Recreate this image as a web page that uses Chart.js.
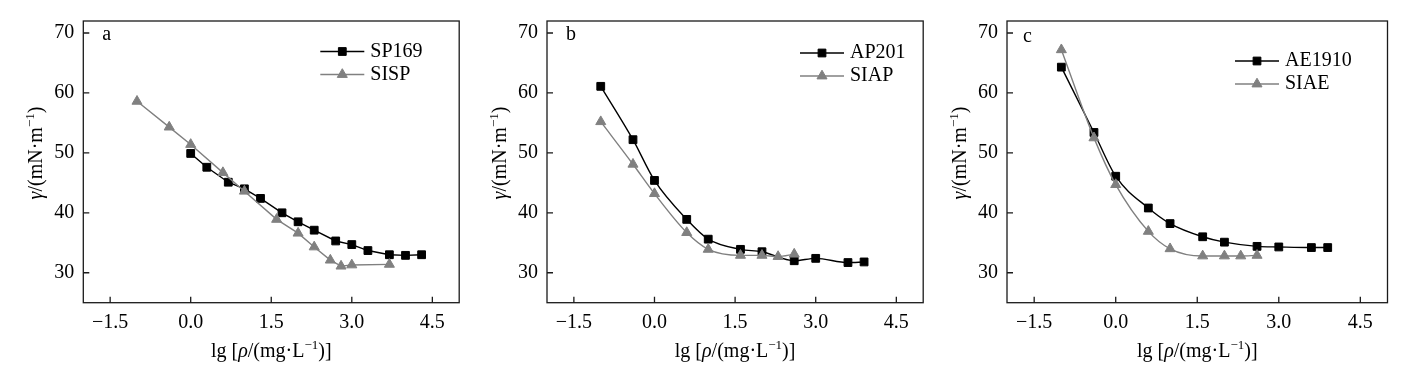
<!DOCTYPE html>
<html>
<head>
<meta charset="utf-8">
<script src="https://cdn.jsdelivr.net/npm/chart.js@4.4.1/dist/chart.umd.min.js"></script>
<style>
body { margin: 0; background: #fff; width: 1426px; height: 373px; position: relative; overflow: hidden; }
.panel { position: absolute; top: 0; height: 373px; }
</style>
</head>
<body>
<div class="panel" style="left:0;width:466px"><canvas id="chartA"></canvas></div>
<div class="panel" style="left:466px;width:464px"><canvas id="chartB"></canvas></div>
<div class="panel" style="left:930px;width:496px"><canvas id="chartC"></canvas></div>
<script>
// axis ticks
var xTicks = [-1.5, 0, 1.5, 3, 4.5];
var yTicks = [30, 40, 50, 60, 70];

// panel a
var sp169X = [0, 0.3, 0.7, 1.0, 1.3, 1.7, 2.0, 2.3, 2.7, 3.0, 3.3, 3.7, 4.0, 4.3];
var sp169Y = [49.9, 47.6, 45.1, 44.0, 42.4, 40.0, 38.5, 37.1, 35.3, 34.7, 33.7, 33.0, 32.9, 33.0];
var sispX = [-1.0, -0.4, 0, 0.6, 1.0, 1.6, 2.0, 2.3, 2.6, 2.8, 3.0, 3.7];
var sispY = [58.6, 54.3, 51.4, 46.7, 43.6, 38.9, 36.6, 34.3, 32.1, 31.1, 31.3, 31.4];

// panel b
var ap201X = [-1.0, -0.4, 0, 0.6, 1.0, 1.6, 2.0, 2.6, 3.0, 3.6, 3.9];
var ap201Y = [61.1, 52.2, 45.4, 38.9, 35.6, 33.9, 33.5, 32.0, 32.4, 31.7, 31.8];
var siapX = [-1.0, -0.4, 0, 0.6, 1.0, 1.6, 2.0, 2.3, 2.6];
var siapY = [55.2, 48.1, 43.2, 36.7, 33.9, 32.9, 32.9, 32.7, 33.1];

// panel c
var ae1910X = [-1.0, -0.4, 0, 0.6, 1.0, 1.6, 2.0, 2.6, 3.0, 3.6, 3.9];
var ae1910Y = [64.3, 53.4, 46.1, 40.8, 38.2, 36.0, 35.1, 34.4, 34.3, 34.2, 34.2];
var siaeX = [-1.0, -0.4, 0, 0.6, 1.0, 1.6, 2.0, 2.3, 2.6];
var siaeY = [67.2, 52.5, 44.7, 36.9, 34.0, 32.8, 32.8, 32.8, 32.9];

var FONT = '"Liberation Serif", "Times New Roman", serif';

function pts(xs, ys) {
    return xs.map(function (x, i) { return { x: x, y: ys[i] }; });
}

function fmtX(v) {
    if (v < 0) return '\u2212' + Math.abs(v).toFixed(1);
    return v.toFixed(1);
}

// draws a line of text made of parts (italic / superscript), centred on (0,0)
function drawRich(ctx, parts) {
    var total = 0;
    parts.forEach(function (p) {
        ctx.font = (p.italic ? 'italic ' : '') + (p.sup ? '13px ' : '20px ') + FONT;
        p.w = ctx.measureText(p.t).width;
        total += p.w;
    });
    var x = -total / 2;
    ctx.textAlign = 'left';
    ctx.textBaseline = 'middle';
    parts.forEach(function (p) {
        ctx.font = (p.italic ? 'italic ' : '') + (p.sup ? '13px ' : '20px ') + FONT;
        ctx.fillText(p.t, x, p.sup ? -6 : 0);
        x += p.w;
    });
}

var xTitle = [{ t: 'lg [' }, { t: '\u03c1', italic: true }, { t: '/(mg\u00b7L' }, { t: '\u22121', sup: true }, { t: ')]' }];
var yTitle = [{ t: '\u03b3', italic: true }, { t: '/(mN\u00b7m' }, { t: '\u22121', sup: true }, { t: ')' }];

var framePlugin = {
    id: 'frame',
    afterDraw: function (chart) {
        var ctx = chart.ctx, a = chart.chartArea;
        var xs = chart.scales.x, ys = chart.scales.y;
        var o = chart.options.plugins.frame;
        ctx.save();
        ctx.strokeStyle = '#1a1a1a';
        ctx.lineWidth = 1.3;
        ctx.strokeRect(a.left, a.top, a.right - a.left, a.bottom - a.top);
        ctx.beginPath();
        xTicks.forEach(function (v) {
            var px = xs.getPixelForValue(v);
            ctx.moveTo(px, a.bottom);
            ctx.lineTo(px, a.bottom - 6);
        });
        yTicks.forEach(function (v) {
            var py = ys.getPixelForValue(v);
            ctx.moveTo(a.left, py);
            ctx.lineTo(a.left + 6, py);
        });
        ctx.stroke();

        ctx.fillStyle = '#000';
        // axis titles
        ctx.save();
        ctx.translate((a.left + a.right) / 2, 351.7);
        drawRich(ctx, xTitle);
        ctx.restore();
        ctx.save();
        ctx.translate(a.left - 46.7, 153);
        ctx.rotate(-Math.PI / 2);
        drawRich(ctx, yTitle);
        ctx.restore();

        // panel letter
        ctx.font = '20px ' + FONT;
        ctx.textAlign = 'left';
        ctx.textBaseline = 'middle';
        ctx.fillText(o.letter, a.left + o.letterX, o.letterY);

        // legend
        chart.data.datasets.forEach(function (ds, i) {
            var y = o.legendY + i * 23;
            var x0 = a.left + o.legendX;
            ctx.strokeStyle = ds.borderColor;
            ctx.fillStyle = ds.pointBackgroundColor;
            ctx.lineWidth = ds.borderWidth;
            ctx.beginPath();
            ctx.moveTo(x0, y);
            ctx.lineTo(x0 + 44, y);
            ctx.stroke();
            ctx.lineWidth = 1;
            Chart.helpers.drawPoint(ctx, { pointStyle: ds.pointStyle, radius: ds.pointRadius, borderWidth: 1 }, x0 + 22, y);
            ctx.fillStyle = '#000';
            ctx.font = '20px ' + FONT;
            ctx.fillText(ds.label, x0 + 50, y);
        });
        ctx.restore();
    }
};

function makeChart(id, labels, blackPts, greyPts, smooth, yAxisWidth, padRight, extra) {
    var curve = smooth ? 'monotone' : 'default';
    return new Chart(document.getElementById(id), {
        type: 'line',
        data: {
            datasets: [{
                label: labels[0],
                data: blackPts,
                borderColor: '#000',
                backgroundColor: '#000',
                pointBackgroundColor: '#000',
                pointBorderColor: '#000',
                borderWidth: 1.4,
                pointStyle: 'rect',
                pointRadius: 5.5,
                pointBorderWidth: 1,
                cubicInterpolationMode: curve,
                tension: 0,
                order: 1
            }, {
                label: labels[1],
                data: greyPts,
                borderColor: '#808080',
                backgroundColor: '#808080',
                pointBackgroundColor: '#808080',
                pointBorderColor: '#808080',
                borderWidth: 1.4,
                pointStyle: 'triangle',
                pointRadius: 5.8,
                pointBorderWidth: 1,
                cubicInterpolationMode: curve,
                tension: 0,
                order: 0
            }]
        },
        options: {
            responsive: true,
            maintainAspectRatio: false,
            animation: false,
            layout: { padding: { top: 20.7, right: padRight, bottom: 0, left: 0 } },
            plugins: {
                legend: { display: false },
                tooltip: { enabled: false },
                frame: extra
            },
            scales: {
                x: {
                    type: 'linear',
                    min: -2,
                    max: 5,
                    afterBuildTicks: function (s) { s.ticks = xTicks.map(function (v) { return { value: v }; }); },
                    afterFit: function (s) { s.height = 70.3; },
                    grid: { display: false, drawTicks: false },
                    border: { display: false },
                    ticks: {
                        padding: 8,
                        color: '#000',
                        font: { family: FONT, size: 20 },
                        maxRotation: 0,
                        callback: function (v) { return fmtX(v); }
                    }
                },
                y: {
                    min: 25,
                    max: 72,
                    afterBuildTicks: function (s) { s.ticks = yTicks.map(function (v) { return { value: v }; }); },
                    afterFit: function (s) { s.width = yAxisWidth; },
                    grid: { display: false, drawTicks: false },
                    border: { display: false },
                    ticks: {
                        padding: 9,
                        color: '#000',
                        font: { family: FONT, size: 20 }
                    }
                }
            }
        },
        plugins: [framePlugin]
    });
}

makeChart('chartA', ['SP169', 'SISP'], pts(sp169X, sp169Y), pts(sispX, sispY), false, 83.3, 3.5,
    { letter: 'a', letterX: 19, letterY: 35, legendX: 237, legendY: 51.5 });
makeChart('chartB', ['AP201', 'SIAP'], pts(ap201X, ap201Y), pts(siapX, siapY), true, 81, 2.5,
    { letter: 'b', letterX: 19, letterY: 35, legendX: 253, legendY: 53 });
makeChart('chartC', ['AE1910', 'SIAE'], pts(ae1910X, ae1910Y), pts(siaeX, siaeY), true, 77, 38.5,
    { letter: 'c', letterX: 16, letterY: 37, legendX: 228, legendY: 61 });
</script>
</body>
</html>
